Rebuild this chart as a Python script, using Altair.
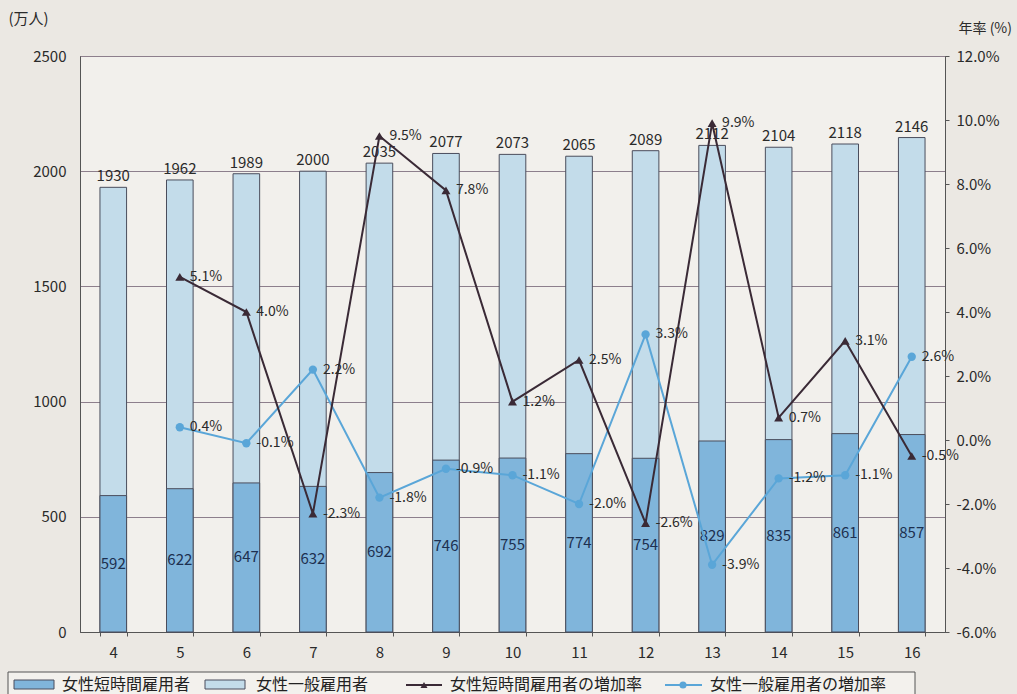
import altair as alt
import pandas as pd

years = ["4", "5", "6", "7", "8", "9", "10", "11", "12", "13", "14", "15", "16"]
short_workers = [592, 622, 647, 632, 692, 746, 755, 774, 754, 829, 835, 861, 857]
total_workers = [1930, 1962, 1989, 2000, 2035, 2077, 2073, 2065, 2089, 2112, 2104, 2118, 2146]
rate_years = ["5", "6", "7", "8", "9", "10", "11", "12", "13", "14", "15", "16"]
short_rate = [5.1, 4.0, -2.3, 9.5, 7.8, 1.2, 2.5, -2.6, 9.9, 0.7, 3.1, -0.5]
general_rate = [0.4, -0.1, 2.2, -1.8, -0.9, -1.1, -2.0, 3.3, -3.9, -1.2, -1.1, 2.6]

legend_names = ["女性短時間雇用者", "女性一般雇用者", "女性短時間雇用者の増加率", "女性一般雇用者の増加率"]

FONT = "Noto Sans CJK JP"
W, H = 865, 576
DARK_BAR = "#80b5db"
LIGHT_BAR = "#c3dcea"
OUTLINE = "#4a4d5c"
DARK_LINE = "#3a2a36"
BLUE_LINE = "#5aa6d8"
GRID = "#8d7f8c"
TXT = "#2a2a2a"

bars = pd.DataFrame({"year": years, "short": short_workers, "total": total_workers})
bars["mid"] = bars["short"] / 2

rates_s = pd.DataFrame({"year": rate_years, "rate": short_rate})
rates_s["label"] = [f"{v:.1f}%" for v in short_rate]
rates_g = pd.DataFrame({"year": rate_years, "rate": general_rate})
rates_g["label"] = [f"{v:.1f}%" for v in general_rate]

one = pd.DataFrame({"k": [0]})

x_enc = alt.X(
    "year:N",
    sort=years,
    scale=alt.Scale(domain=years, paddingInner=0.6, paddingOuter=0.3),
    axis=alt.Axis(
        title=None, labelAngle=0, labelFontSize=15, labelPadding=9,
        labelColor=TXT, tickBand="extent", tickSize=4, tickColor="#555",
        domainColor="#555", labelFont=FONT,
    ),
)

left_axis = alt.Axis(
    title="(万人)", titleAngle=0, titleAlign="left", titleBaseline="middle",
    titleX=-72, titleY=-38, titleFontSize=15, titleFontWeight="normal",
    titleFont=FONT, titleColor=TXT,
    values=[0, 500, 1000, 1500, 2000, 2500], format="d", grid=True, gridColor=GRID,
    gridWidth=1, ticks=False, domainColor="#555", labelFontSize=15,
    labelPadding=14, labelColor=TXT, labelFont=FONT,
)
left_scale = alt.Scale(domain=[0, 2500], nice=False)

right_axis = alt.Axis(
    title="年率 (%)", titleAngle=0, titleAlign="left", titleBaseline="middle",
    titleX=13, titleY=-28, titleFontSize=14, titleFontWeight="normal",
    titleFont=FONT, titleColor=TXT,
    values=[-6, -4, -2, 0, 2, 4, 6, 8, 10, 12], grid=False, ticks=True,
    tickSize=4, tickColor="#555", domainColor="#555", labelFontSize=15,
    labelPadding=7, labelColor=TXT, labelFont=FONT,
    labelExpr="replace(format(datum.value, '.1f'), '\u2212', '-') + '%'",
)
right_scale = alt.Scale(domain=[-6, 12], nice=False)

base = alt.Chart(bars)
light = base.mark_bar(color=LIGHT_BAR, stroke=OUTLINE, strokeWidth=1).encode(
    x=x_enc, y=alt.Y("total:Q", scale=left_scale, axis=left_axis)
)
dark = base.mark_bar(color=DARK_BAR, stroke=OUTLINE, strokeWidth=1).encode(
    x=x_enc, y=alt.Y("short:Q", scale=left_scale, axis=left_axis)
)
total_txt = base.mark_text(dy=-11, fontSize=15, color=TXT, font=FONT).encode(
    x=x_enc, y=alt.Y("total:Q", scale=left_scale, axis=left_axis), text="total:Q"
)
short_txt = base.mark_text(fontSize=15, color="#1d3050", font=FONT).encode(
    x=x_enc, y=alt.Y("mid:Q", scale=left_scale, axis=left_axis), text="short:Q"
)

# legend
leg = alt.Chart(one)
leg_box = leg.mark_rect(fill="#f3f1ed", stroke="#555", strokeWidth=1).encode(
    x=alt.value(-72), x2=alt.value(835), y=alt.value(616), y2=alt.value(650)
)
sw1 = leg.mark_rect(fill=DARK_BAR, stroke=OUTLINE).encode(
    x=alt.value(-66), x2=alt.value(-26), y=alt.value(624), y2=alt.value(633)
)
sw2 = leg.mark_rect(fill=LIGHT_BAR, stroke=OUTLINE).encode(
    x=alt.value(125), x2=alt.value(165), y=alt.value(624), y2=alt.value(633)
)
ln1 = leg.mark_rule(color=DARK_LINE, strokeWidth=2).encode(
    x=alt.value(326), x2=alt.value(362), y=alt.value(629)
)
pt1 = leg.mark_point(shape="triangle-up", filled=True, color=DARK_LINE, size=50, opacity=1).encode(
    x=alt.value(344), y=alt.value(629)
)
ln2 = leg.mark_rule(color=BLUE_LINE, strokeWidth=2).encode(
    x=alt.value(585), x2=alt.value(622), y=alt.value(629)
)
pt2 = leg.mark_point(shape="circle", filled=True, color=BLUE_LINE, size=50, opacity=1).encode(
    x=alt.value(603), y=alt.value(629)
)
leg_texts = []
for name, xpos in zip(legend_names, [-18, 176, 370, 630]):
    leg_texts.append(
        leg.mark_text(align="left", baseline="middle", fontSize=16, color="#222", font=FONT).encode(
            x=alt.value(xpos), y=alt.value(629), text=alt.value(name)
        )
    )

left_group = alt.layer(light, dark, total_txt, short_txt, leg_box, sw1, sw2, ln1, pt1, ln2, pt2, *leg_texts)

y_r = alt.Y("rate:Q", scale=right_scale, axis=right_axis)
cs = alt.Chart(rates_s)
cg = alt.Chart(rates_g)
s_line = cs.mark_line(color=DARK_LINE, strokeWidth=2).encode(x=x_enc, y=y_r)
s_pt = cs.mark_point(shape="triangle-up", filled=True, color=DARK_LINE, size=80, opacity=1).encode(x=x_enc, y=y_r)
s_txt = cs.mark_text(align="left", baseline="middle", dx=10, fontSize=14, color=TXT, font=FONT).encode(
    x=x_enc, y=y_r, text="label:N"
)
g_line = cg.mark_line(color=BLUE_LINE, strokeWidth=2).encode(x=x_enc, y=y_r)
g_pt = cg.mark_point(shape="circle", filled=True, color=BLUE_LINE, size=70, opacity=1).encode(x=x_enc, y=y_r)
g_txt = cg.mark_text(align="left", baseline="middle", dx=10, fontSize=14, color=TXT, font=FONT).encode(
    x=x_enc, y=y_r, text="label:N"
)
right_group = alt.layer(g_line, s_line, g_pt, s_pt, g_txt, s_txt)

chart = (
    alt.layer(left_group, right_group)
    .resolve_scale(y="independent")
    .properties(
        width=W, height=H,
        autosize=alt.AutoSizeParams(type="none"),
        padding={"left": 80, "top": 56, "right": 72, "bottom": 62},
        background="#ebe8e3",
    )
    .configure_view(fill="#f2f0ec", stroke="#555", strokeWidth=1)
    .configure_axis(labelFont=FONT, titleFont=FONT)
)

chart.save("out.html", embed_options={"renderer": "svg", "actions": False})
